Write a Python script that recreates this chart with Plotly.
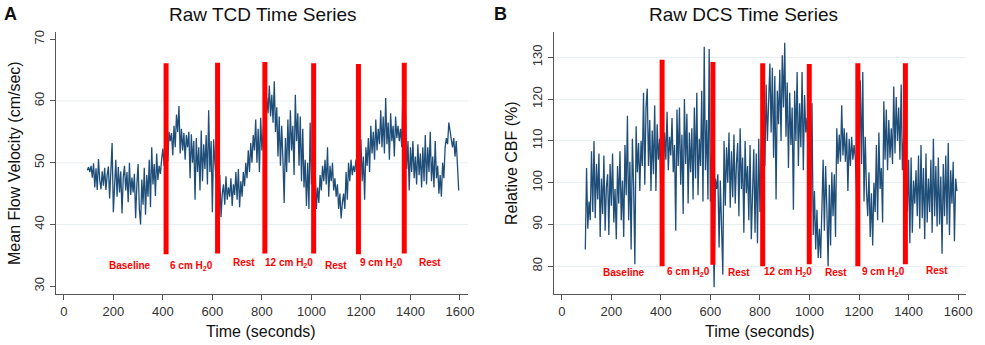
import plotly.graph_objects as go

# ---------------- data ----------------
t_start, t_step = 95, 5

tcd_values = [
    48.8, 49.3, 48.5, 49.5, 47.6, 49.9, 46.0, 49.1, 45.6, 50.6, 47.2, 45.7, 48.6, 46.3, 49.2, 45.6, 48.0, 49.4, 44.2, 49.0,
    53.2, 42.0, 47.5, 50.5, 44.5, 49.3, 45.2, 48.6, 41.8, 47.6, 49.5, 45.5, 48.5, 43.6, 50.0, 44.8, 47.6, 45.2, 48.2, 41.0,
    46.5, 49.8, 42.5, 40.0, 47.3, 43.2, 49.2, 41.6, 48.0, 44.5, 50.5, 42.8, 52.5, 46.5, 49.8, 44.6, 51.5, 47.2, 49.5, 48.2,
    50.5, 52.3, 49.5, 54.0, 57.2, 50.2, 55.0, 53.5, 54.8, 51.2, 56.0, 52.5, 57.8, 55.0, 59.2, 51.5, 55.5, 52.0, 54.8, 50.5,
    54.5, 52.5, 55.0, 47.5, 54.6, 50.0, 53.5, 44.0, 54.0, 48.5, 52.5, 45.5, 55.2, 47.0, 53.0, 49.0, 54.5, 46.5, 58.5, 48.5,
    53.5, 42.0, 53.8, 50.0, 47.5, 53.2, 44.0, 48.0, 41.2, 45.0, 46.5, 43.2, 47.8, 44.0, 46.0, 44.5, 47.5, 43.0, 46.5, 44.8,
    48.5, 44.0, 49.0, 42.8, 47.0, 44.5, 48.5, 46.2, 50.0, 47.5, 52.0, 48.5, 53.2, 50.0, 54.5, 52.0, 57.0, 50.0, 55.5, 48.5,
    57.3, 52.0, 55.0, 58.0, 56.5, 60.5, 58.0, 62.5, 57.5, 61.0, 56.5, 63.2, 55.0, 59.0, 51.0, 57.5, 49.5, 56.0, 50.5, 43.5,
    54.0, 48.5, 57.0, 50.0, 58.5, 52.0, 56.0, 48.0, 61.0, 53.5, 58.0, 49.5, 57.5, 47.0, 55.5, 46.0, 50.5, 43.0, 50.0, 42.5,
    56.5, 46.5, 48.5, 44.5, 49.0, 42.5, 46.0, 43.5, 48.0, 45.5, 49.5, 47.0, 50.5, 46.5, 52.5, 44.5, 49.5, 47.0, 50.0, 45.5,
    47.5, 44.5, 46.5, 42.5, 45.0, 41.0, 43.5, 45.0, 42.5, 48.5, 44.0, 50.0, 47.0, 50.5, 48.0, 49.5, 48.5, 50.5, 49.0, 53.5,
    45.5, 53.8, 47.0, 51.0, 44.0, 52.5, 49.5, 54.0, 48.5, 56.0, 51.5, 55.0, 50.5, 57.0, 52.0, 55.5, 53.0, 58.5, 52.5, 57.5,
    51.5, 60.5, 53.0, 56.5, 50.5, 58.0, 53.5, 56.0, 51.0, 57.5, 54.0, 56.0, 53.5, 55.5, 52.5, 62.5, 53.0, 58.0, 49.0, 53.5,
    45.5, 52.5, 48.5, 53.5, 47.5, 51.0, 46.5, 53.0, 48.0, 51.5, 46.0, 52.5, 47.0, 54.5, 46.5, 52.5, 48.5, 55.0, 47.0, 51.0,
    46.0, 53.5, 47.5, 49.5, 45.0, 48.0, 44.5, 50.0, 47.5, 52.5, 54.0, 53.0, 56.5, 55.0, 54.0, 52.5, 54.0, 51.0, 53.5, 48.0, 45.5,
]

dcs_values = [
    84.0, 103.5, 89.0, 95.5, 91.0, 107.5, 93.0, 110.0, 91.5, 104.5, 96.0, 107.0, 87.0, 101.0, 92.5, 106.5, 88.5, 99.0, 102.0, 87.5,
    104.5, 94.5, 107.0, 90.5, 98.5, 86.5, 104.0, 95.0, 107.5, 91.0, 100.5, 87.0, 109.0, 97.0, 116.0, 91.0, 105.0, 84.0, 110.5, 99.0,
    80.5, 113.5, 102.5, 109.5, 98.0, 110.0, 104.0, 121.5, 99.5, 118.0, 122.5, 104.0, 115.0, 98.0, 112.5, 102.0, 118.5, 98.0, 114.0, 105.5,
    110.5, 97.0, 114.0, 101.0, 112.0, 105.5, 117.0, 103.0, 111.0, 106.5, 115.5, 102.5, 109.0, 88.5, 117.5, 104.0, 118.0, 99.5, 111.5, 92.5,
    120.0, 104.5, 116.5, 95.0, 112.0, 102.5, 113.0, 96.0, 118.0, 101.0, 121.5, 97.0, 110.5, 104.0, 122.0, 95.5, 132.5, 103.0, 115.0, 96.0,
    132.0, 95.5, 108.0, 89.0, 75.0, 101.0, 98.5, 102.0, 84.5, 100.5, 90.0, 78.0, 110.0, 94.5, 108.5, 100.0, 112.0, 94.0, 107.5, 96.5,
    111.5, 95.0, 104.5, 109.5, 92.0, 113.0, 98.5, 106.0, 88.0, 110.0, 97.5, 104.0, 91.0, 109.0, 86.5, 101.5, 108.0, 88.0, 107.0, 85.5,
    110.5, 93.0, 108.0, 112.0, 120.5, 104.0, 123.5, 110.0, 119.0, 128.5, 112.0, 127.5, 106.0, 125.5, 96.0, 122.0, 114.0, 127.0, 110.0, 130.5,
    118.0, 133.5, 111.0, 124.0, 103.5, 121.5, 109.0, 118.0, 93.5, 122.0, 110.0, 126.5, 104.0, 119.0, 108.5, 126.5, 103.0, 121.0, 112.0, 115.5,
    102.5, 119.0, 93.0, 119.0, 87.5, 98.0, 84.0, 93.5, 82.0, 89.0, 82.0, 96.0, 105.5, 88.5, 104.0, 94.0, 80.0, 99.5, 85.0, 102.5,
    92.0, 102.0, 87.0, 113.0, 104.5, 111.5, 105.0, 118.5, 106.5, 113.0, 105.0, 112.0, 98.0, 110.5, 104.0, 111.0, 105.5, 109.0, 106.0, 97.5,
    109.5, 103.0, 124.5, 104.5, 126.5, 95.5, 111.0, 98.0, 92.0, 102.5, 87.0, 97.5, 85.0, 100.0, 93.0, 109.0, 91.0, 112.0, 98.5, 103.5,
    90.5, 119.5, 105.5, 117.5, 103.0, 115.0, 106.0, 113.0, 104.5, 123.0, 107.0, 120.5, 110.0, 118.0, 105.5, 123.5, 103.0, 111.0, 98.0, 103.5,
    93.0, 105.5, 85.5, 106.0, 88.0, 100.5, 95.0, 103.0, 92.0, 106.5, 89.0, 109.0, 91.5, 103.5, 86.5, 107.0, 90.5, 101.0, 93.0, 105.5,
    88.0, 110.5, 92.0, 104.0, 89.5, 106.0, 90.0, 101.5, 83.0, 104.5, 92.0, 106.5, 90.0, 109.5, 87.5, 103.0, 95.0, 105.0, 86.0, 101.0, 98.0,
]

times = [t_start + i * t_step for i in range(len(tcd_values))]

# event markers (red bars)
tcd_event_times = [413, 621, 812, 1009, 1190, 1375]
tcd_event_top = [66.1, 66.2, 66.3, 66.1, 66.0, 66.2]
tcd_event_bottom = [35.2, 35.3, 35.3, 35.3, 35.2, 35.3]

dcs_event_times = [405, 610, 811, 999, 1195, 1387]
dcs_event_top = [129.4, 128.9, 128.6, 128.4, 128.6, 128.6]
dcs_event_bottom = [80.0, 80.4, 80.0, 80.5, 80.0, 80.5]

# phase labels
phase_labels = ["Baseline", "6 cm H<sub>2</sub>0", "Rest", "12 cm H<sub>2</sub>0",
                "Rest", "9 cm H<sub>2</sub>0", "Rest"]
tcd_label_x = [268, 516, 726, 910, 1100, 1285, 1479]
tcd_label_y = [33.3, 33.3, 33.8, 33.8, 33.3, 33.8, 33.8]
dcs_label_x = [250, 512, 716, 912, 1108, 1297, 1515]
dcs_label_y = [78.6, 78.6, 78.5, 78.6, 78.5, 78.6, 79.1]

x_ticks = [0, 200, 400, 600, 800, 1000, 1200, 1400, 1600]
tcd_y_ticks = [30, 40, 50, 60, 70]
tcd_grid = [40, 50, 60]
dcs_y_ticks = [80, 90, 100, 110, 120, 130]

# ---------------- styles ----------------
LINE = "#1f4e79"
RED = "#ff0000"
AXIS = "#555555"
GRID = "#e8eff2"
FONT = "Liberation Sans, Arial, sans-serif"


def event_xy(ts, lo, hi):
    xs, ys = [], []
    for t, b, h in zip(ts, lo, hi):
        xs += [t, t, None]
        ys += [b, h, None]
    return xs, ys


fig = go.Figure()

fig.add_trace(go.Scatter(x=times, y=tcd_values, mode="lines",
                         line=dict(color=LINE, width=1.3), xaxis="x", yaxis="y",
                         showlegend=False, hoverinfo="skip"))
ex, ey = event_xy(tcd_event_times, tcd_event_bottom, tcd_event_top)
fig.add_trace(go.Scatter(x=ex, y=ey, mode="lines", line=dict(color=RED, width=5),
                         xaxis="x", yaxis="y", showlegend=False, hoverinfo="skip"))

fig.add_trace(go.Scatter(x=times, y=dcs_values, mode="lines",
                         line=dict(color=LINE, width=1.3), xaxis="x2", yaxis="y2",
                         showlegend=False, hoverinfo="skip"))
ex, ey = event_xy(dcs_event_times, dcs_event_bottom, dcs_event_top)
fig.add_trace(go.Scatter(x=ex, y=ey, mode="lines", line=dict(color=RED, width=5),
                         xaxis="x2", yaxis="y2", showlegend=False, hoverinfo="skip"))

W, H = 985, 345


def px_x(p):
    return p / W


def px_y(p):
    return 1 - p / H


xax = dict(range=[-33, 1633], tickvals=x_ticks, showgrid=False, zeroline=False,
           showline=True, linecolor=AXIS, linewidth=1, ticks="outside", ticklen=5,
           tickcolor=AXIS, tickfont=dict(family=FONT, size=13, color="#333333"))
yax = dict(showline=True, linecolor=AXIS, linewidth=1, ticks="outside", ticklen=5,
           tickcolor=AXIS, zeroline=False, tickangle=-90,
           tickfont=dict(family=FONT, size=13, color="#333333"))

fig.update_layout(
    width=W, height=H,
    margin=dict(l=0, r=0, t=0, b=0),
    paper_bgcolor="white", plot_bgcolor="white",
    showlegend=False,
    xaxis=dict(xax, domain=[px_x(56), px_x(471)], anchor="y"),
    yaxis=dict(yax, domain=[px_y(294), px_y(30)], range=[28.7, 71.2],
               tickvals=tcd_y_ticks, showgrid=False, anchor="x"),
    xaxis2=dict(xax, domain=[px_x(557), px_x(972)], anchor="y2", range=[-33, 1632]),
    yaxis2=dict(yax, domain=[px_y(294), px_y(30)], range=[73.3, 136.1],
                tickvals=dcs_y_ticks, showgrid=True, gridcolor=GRID, gridwidth=1,
                anchor="x2"),
)

# left gridlines (Stata style: only interior ticks)
for g in tcd_grid:
    fig.add_shape(type="line", xref="x domain", yref="y", x0=0, x1=1, y0=g, y1=g,
                  line=dict(color=GRID, width=1), layer="below")

ann = []
for txt, x, y in zip(phase_labels, tcd_label_x, tcd_label_y):
    ann.append(dict(text=f"<b>{txt}</b>", x=x, y=y, xref="x", yref="y", showarrow=False,
                    xanchor="center", yanchor="middle",
                    font=dict(family=FONT, size=10, color=RED)))
for txt, x, y in zip(phase_labels, dcs_label_x, dcs_label_y):
    ann.append(dict(text=f"<b>{txt}</b>", x=x, y=y, xref="x2", yref="y2", showarrow=False,
                    xanchor="center", yanchor="middle",
                    font=dict(family=FONT, size=10, color=RED)))

# titles & axis titles & panel letters
title_font = dict(family=FONT, size=19, color="#111111")
ax_font = dict(family=FONT, size=16, color="#111111")
paper_texts = [
    ("Raw TCD Time Series", 265, 13, title_font, 0),
    ("Raw DCS Time Series", 748, 13, title_font, 0),
    ("<b>A</b>", 11, 12, dict(family=FONT, size=18, color="#111111"), 0),
    ("<b>B</b>", 504, 12, dict(family=FONT, size=18, color="#111111"), 0),
    ("Time (seconds)", 263, 331, ax_font, 0),
    ("Time (seconds)", 765, 331, ax_font, 0),
    ("Mean Flow Velocity (cm/sec)", 14, 162, ax_font, -90),
    ("Relative CBF (%)", 514, 162, ax_font, -90),
]
for txt, x, y, f, ang in paper_texts:
    ann.append(dict(text=txt, x=px_x(x), y=px_y(y), xref="paper", yref="paper",
                    showarrow=False, font=f, textangle=ang,
                    xanchor="center", yanchor="middle"))
fig.update_layout(annotations=ann)

fig.write_html("out.html", config={"displayModeBar": False},
               post_script="document.body.style.margin='0';")
